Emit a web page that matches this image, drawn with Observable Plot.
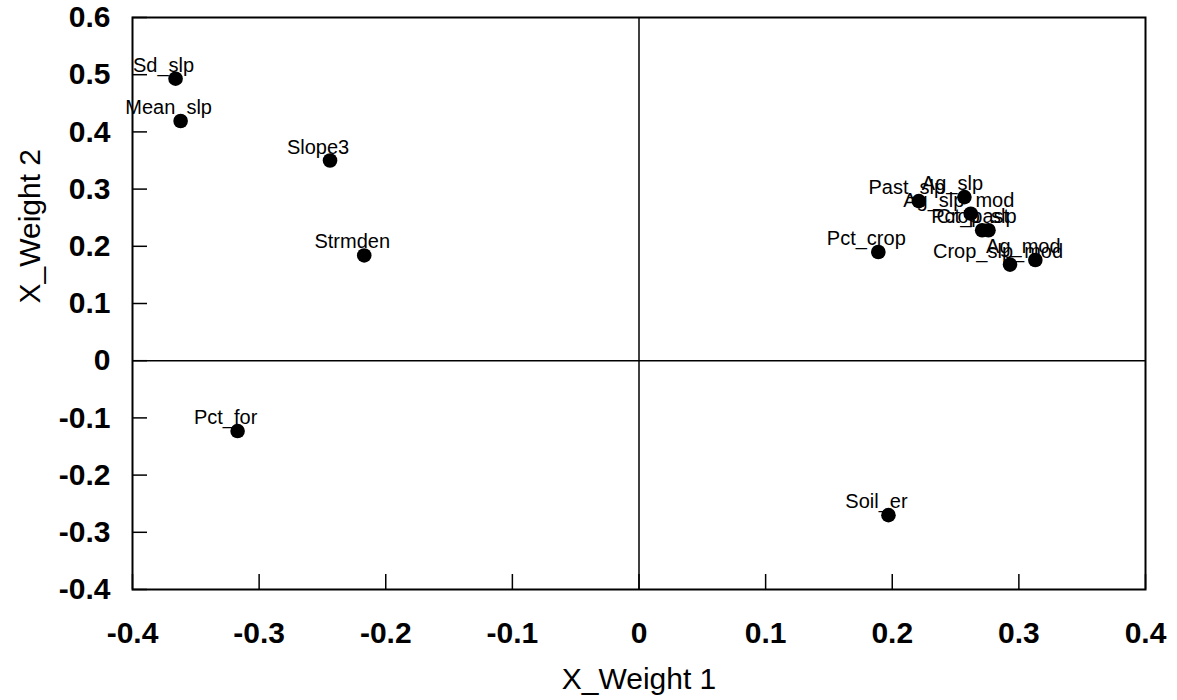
<!DOCTYPE html>
<html>
<head>
<meta charset="utf-8">
<script src="https://cdn.jsdelivr.net/npm/d3@7"></script>
<script src="https://cdn.jsdelivr.net/npm/@observablehq/plot@0.6"></script>
<style>
  html, body { margin: 0; padding: 0; background: white; }
  #chart { width: 1177px; height: 700px; }
</style>
</head>
<body>
<div id="chart"></div>
<script>
const names = ["Sd_slp", "Mean_slp", "Slope3", "Strmden", "Pct_for", "Soil_er", "Pct_crop",
  "Past_slp", "Ag_slp", "Ag_slp_mod", "Pct_past", "Crop_slp", "Crop_slp_mod", "Ag_mod"];
const weight1 = [-0.366, -0.362, -0.244, -0.217, -0.317, 0.197, 0.189,
  0.221, 0.257, 0.262, 0.271, 0.276, 0.293, 0.313];
const weight2 = [0.493, 0.419, 0.350, 0.184, -0.123, -0.270, 0.190,
  0.279, 0.286, 0.257, 0.228, 0.228, 0.168, 0.176];
const xTicks = [-0.4, -0.3, -0.2, -0.1, 0, 0.1, 0.2, 0.3, 0.4];
const yTicks = [-0.4, -0.3, -0.2, -0.1, 0, 0.1, 0.2, 0.3, 0.4, 0.5, 0.6];
const xTitle = "X_Weight 1";
const yTitle = "X_Weight 2";

const data = names.map((n, i) => ({name: n, w1: weight1[i], w2: weight2[i]}));
const fmt = d => String(d);
const font = "'Liberation Sans', Arial, Helvetica, sans-serif";

const chart = Plot.plot({
  width: 1177,
  height: 700,
  marginLeft: 132,
  marginRight: 32,
  marginTop: 17,
  marginBottom: 111,
  style: {fontFamily: font, background: "white", color: "black"},
  x: {domain: [-0.4, 0.4], label: null},
  y: {domain: [-0.4, 0.6], label: null},
  marks: [
    Plot.ruleX([0], {stroke: "black", strokeWidth: 1.5}),
    Plot.ruleY([0], {stroke: "black", strokeWidth: 1.5}),
    Plot.axisX(xTicks, {tickSize: -15, tickPadding: 47, fontSize: 30, fontWeight: "bold",
      tickFormat: fmt, label: null, strokeWidth: 1.5}),
    Plot.axisY(yTicks, {tickSize: -15, tickPadding: 37, fontSize: 30, fontWeight: "bold",
      tickFormat: fmt, label: null, strokeWidth: 1.5}),
    Plot.frame({stroke: "black", strokeWidth: 2}),
    Plot.dot(data, {x: "w1", y: "w2", r: 7.3, fill: "black", stroke: null}),
    Plot.text(data, {x: "w1", y: "w2", text: "name", dx: -12, dy: -7, lineAnchor: "bottom",
      fontSize: 20, fill: "black"}),
    Plot.text([xTitle], {text: d => d, frameAnchor: "bottom", dy: 99, fontSize: 30, fill: "black"}),
    Plot.text([yTitle], {text: d => d, frameAnchor: "left", dx: -102, rotate: -90, fontSize: 30, fill: "black"})
  ]
});
document.getElementById("chart").appendChild(chart);
</script>
</body>
</html>
